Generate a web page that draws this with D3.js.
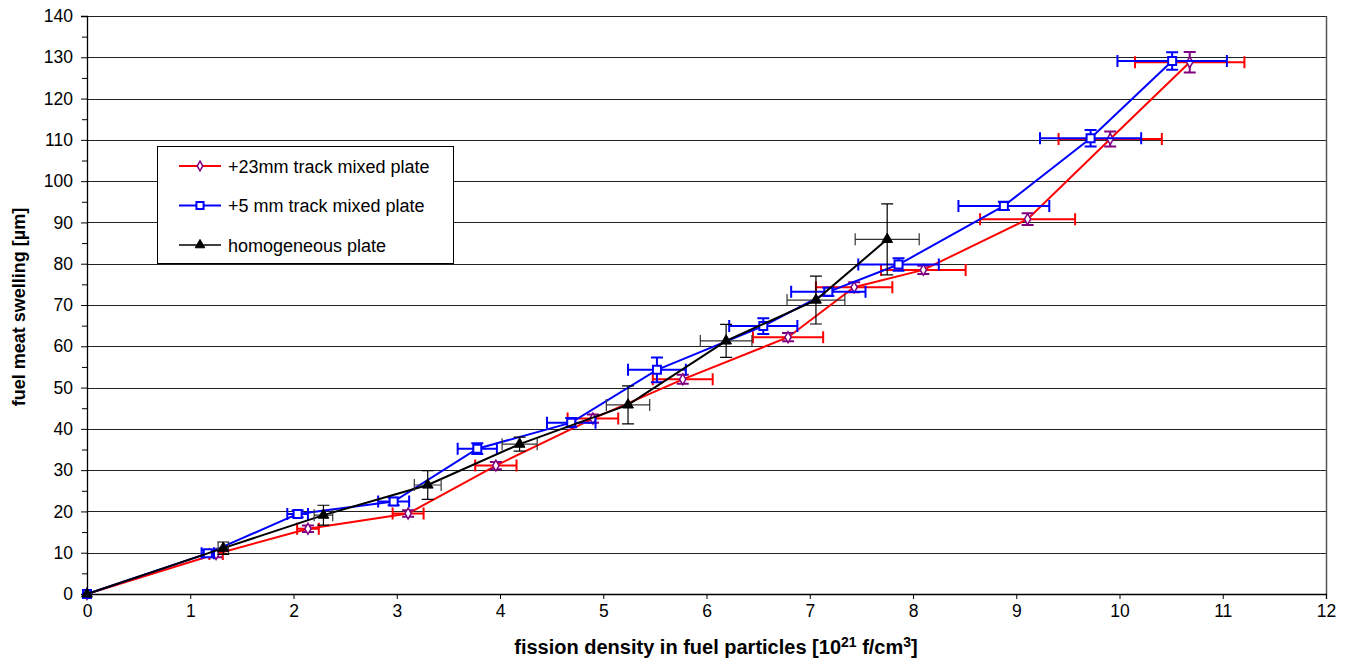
<!DOCTYPE html>
<html>
<head>
<meta charset="utf-8">
<script src="https://cdn.jsdelivr.net/npm/d3@7"></script>
<style>
  body { margin: 0; background: #fff; }
  text { font-family: "Liberation Sans", Arial, sans-serif; }
</style>
</head>
<body>
<script>
// +23mm track mixed plate
var redX    = [0, 1.25, 2.14, 3.11, 3.96, 4.90, 5.77, 6.79, 7.43, 8.10, 9.11, 9.91, 10.68];
var redY    = [0, 9.7, 15.8, 19.5, 31.1, 42.5, 52.0, 62.2, 74.3, 78.5, 90.8, 110.2, 128.8];
var redXErr = [0, 0.065, 0.105, 0.15, 0.2, 0.245, 0.29, 0.34, 0.37, 0.41, 0.46, 0.5, 0.53];
var redYErr = [0, 0.8, 0.8, 0.8, 0.9, 1.0, 1.1, 1.0, 1.2, 1.0, 1.4, 1.8, 2.5];

// +5 mm track mixed plate
var blueX    = [0, 1.17, 2.04, 2.97, 3.78, 4.69, 5.52, 6.55, 7.18, 7.86, 8.88, 9.72, 10.51];
var blueY    = [0, 9.85, 19.4, 22.4, 35.2, 41.5, 54.3, 64.9, 73.2, 79.8, 94.0, 110.4, 129.1];
var blueXErr = [0, 0.06, 0.1, 0.15, 0.19, 0.235, 0.28, 0.33, 0.36, 0.39, 0.44, 0.49, 0.53];
var blueYErr = [0, 0.8, 0.8, 0.9, 1.3, 1.1, 3.0, 1.9, 1.0, 1.5, 1.0, 2.0, 2.1];

// homogeneous plate
var blackX    = [0, 1.32, 2.29, 3.30, 4.19, 5.24, 6.19, 7.06, 7.75];
var blackY    = [0, 11.1, 19.1, 26.4, 36.3, 45.8, 61.3, 71.2, 85.9];
var blackXErr = [0, 0.05, 0.09, 0.13, 0.17, 0.21, 0.25, 0.28, 0.31];
var blackYErr = [0, 1.5, 2.4, 3.5, 1.7, 4.6, 4.0, 5.8, 8.6];

var xTicks = [0, 1, 2, 3, 4, 5, 6, 7, 8, 9, 10, 11, 12];
var yTicks = [0, 10, 20, 30, 40, 50, 60, 70, 80, 90, 100, 110, 120, 130, 140];
var yMinor = [5, 15, 25, 35, 45, 55, 65, 75, 85, 95, 105, 115, 125, 135];

var legendLabels = ["+23mm track mixed plate", "+5 mm track mixed plate", "homogeneous plate"];

var W = 1348, H = 661;
var margin = {top: 16, right: 22, bottom: 67, left: 87};
var width = W - margin.left - margin.right,
    height = H - margin.top - margin.bottom;

var x = d3.scaleLinear().domain([0, 12]).range([0, width]);
var y = d3.scaleLinear().domain([0, 140]).range([height, 0]);

var svg = d3.select("body").append("svg")
    .attr("width", W)
    .attr("height", H);

var g = svg.append("g")
    .attr("transform", "translate(" + margin.left + "," + margin.top + ")");

// gridlines
g.append("g")
  .selectAll("line")
  .data(yTicks.slice(1))
  .enter().append("line")
    .attr("x1", 0).attr("x2", width)
    .attr("y1", function(d) { return Math.round(y(d)) + 0.5; })
    .attr("y2", function(d) { return Math.round(y(d)) + 0.5; })
    .attr("stroke", "#222")
    .attr("stroke-width", 1);

// right border
g.append("line")
    .attr("x1", width + 0.5).attr("x2", width + 0.5)
    .attr("y1", 0).attr("y2", height)
    .attr("stroke", "#555")
    .attr("stroke-width", 1.5);

// axes
g.append("g")
    .attr("transform", "translate(0," + height + ")")
    .call(d3.axisBottom(x).tickValues(xTicks).tickSize(5).tickPadding(6).tickFormat(d3.format("d")));

g.append("g")
    .call(d3.axisLeft(y).tickValues(yTicks).tickSize(6).tickPadding(8).tickFormat(d3.format("d")));

g.append("g")
    .call(d3.axisLeft(y).tickValues(yMinor).tickSize(5).tickFormat(""))
    .select(".domain").remove();

g.selectAll(".domain").attr("stroke", "#000").attr("stroke-width", 1.3);
g.selectAll(".tick line").attr("stroke", "#000");
g.selectAll(".tick text")
    .attr("font-size", "17.5px")
    .attr("fill", "#000")
    .style("font-family", "'Liberation Sans', Arial, sans-serif");

// axis titles
var xt = svg.append("text")
    .attr("x", 716)
    .attr("y", 654)
    .attr("text-anchor", "middle")
    .attr("font-size", "20px")
    .attr("font-weight", "bold");
xt.append("tspan").text("fission density in fuel particles [10");
xt.append("tspan").attr("dy", -7).attr("font-size", "14px").text("21");
xt.append("tspan").attr("dy", 7).text(" f/cm");
xt.append("tspan").attr("dy", -7).attr("font-size", "14px").text("3");
xt.append("tspan").attr("dy", 7).text("]");

svg.append("text")
    .attr("transform", "translate(25,307) rotate(-90)")
    .attr("text-anchor", "middle")
    .attr("font-size", "18px")
    .attr("font-weight", "bold")
    .text("fuel meat swelling [µm]");

function toPoints(xs, ys, xe, ye) {
  return xs.map(function(d, i) { return {x: d, y: ys[i], xe: xe[i], ye: ye[i]}; });
}

var series = [
  {pts: toPoints(redX, redY, redXErr, redYErr), line: "#ff0000", lw: 2, xeCol: "#ff0000", yeCol: "#800080", ew: 2,
   sym: d3.symbolDiamond, size: 34, mStroke: "#800080", mFill: "#fff", mw: 1.5},
  {pts: toPoints(blueX, blueY, blueXErr, blueYErr), line: "#0000ff", lw: 2, xeCol: "#0000ff", yeCol: "#0000ff", ew: 2,
   sym: d3.symbolSquare, size: 64, mStroke: "#0000ff", mFill: "#fff", mw: 2},
  {pts: toPoints(blackX, blackY, blackXErr, blackYErr), line: "#000", lw: 2, xeCol: "#333", yeCol: "#000", ew: 1.2,
   sym: d3.symbolTriangle, size: 50, mStroke: "#000", mFill: "#000", mw: 1}
];

var line = d3.line()
    .x(function(d) { return x(d.x); })
    .y(function(d) { return y(d.y); });

var cap = 6;

series.forEach(function(s) {
  var sg = g.append("g");

  sg.append("path")
    .attr("d", line(s.pts))
    .attr("fill", "none")
    .attr("stroke", s.line)
    .attr("stroke-width", s.lw);

  var eb = sg.selectAll(".eb")
    .data(s.pts.filter(function(d) { return d.x > 0; }))
    .enter().append("g");

  // horizontal error bars
  eb.append("path")
    .attr("d", function(d) {
      var x0 = x(d.x - d.xe), x1 = x(d.x + d.xe), yy = y(d.y);
      return "M" + x0 + "," + yy + "H" + x1 +
             "M" + x0 + "," + (yy - cap) + "V" + (yy + cap) +
             "M" + x1 + "," + (yy - cap) + "V" + (yy + cap);
    })
    .attr("fill", "none")
    .attr("stroke", s.xeCol)
    .attr("stroke-width", s.ew);

  // vertical error bars
  eb.append("path")
    .attr("d", function(d) {
      var y0 = y(d.y - d.ye), y1 = y(d.y + d.ye), xx = x(d.x);
      return "M" + xx + "," + y0 + "V" + y1 +
             "M" + (xx - cap) + "," + y0 + "H" + (xx + cap) +
             "M" + (xx - cap) + "," + y1 + "H" + (xx + cap);
    })
    .attr("fill", "none")
    .attr("stroke", s.yeCol)
    .attr("stroke-width", s.ew);

  sg.selectAll(".mk")
    .data(s.pts)
    .enter().append("path")
      .attr("transform", function(d) { return "translate(" + x(d.x) + "," + y(d.y) + ")"; })
      .attr("d", d3.symbol().type(s.sym).size(s.size))
      .attr("fill", s.mFill)
      .attr("stroke", s.mStroke)
      .attr("stroke-width", s.mw);
});

// legend
var lg = svg.append("g").attr("transform", "translate(157,146)");
lg.append("rect")
    .attr("x", 0.5).attr("y", 0.5)
    .attr("width", 296).attr("height", 117)
    .attr("fill", "#fff")
    .attr("stroke", "#000")
    .attr("stroke-width", 1);

lg.selectAll(".item")
  .data(series)
  .enter().append("g")
    .attr("transform", function(d, i) { return "translate(0," + (20 + i * 39.5) + ")"; })
    .each(function(s, i) {
      var it = d3.select(this);
      it.append("line")
        .attr("x1", 22).attr("x2", 64)
        .attr("stroke", s.line)
        .attr("stroke-width", i == 2 ? 1.3 : 1.8);
      it.append("path")
        .attr("transform", "translate(43,0)")
        .attr("d", d3.symbol().type(s.sym).size(s.size * 0.8))
        .attr("fill", s.mFill)
        .attr("stroke", s.mStroke)
        .attr("stroke-width", s.mw);
      it.append("text")
        .attr("x", 71)
        .attr("y", 6.5)
        .attr("font-size", "18px")
        .text(legendLabels[i]);
    });
</script>
</body>
</html>
